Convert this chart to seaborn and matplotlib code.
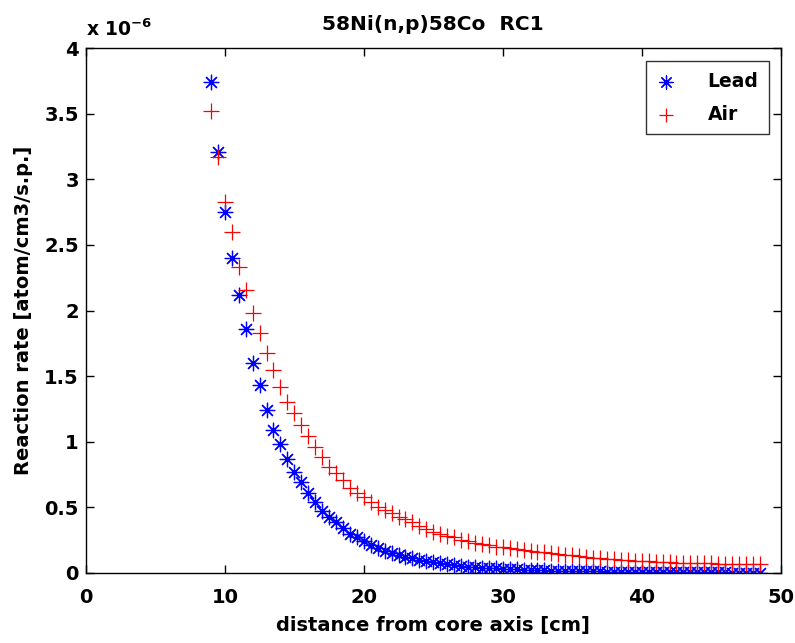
import numpy as np
import pandas as pd
import matplotlib
matplotlib.use("Agg")
import matplotlib.pyplot as plt
import seaborn as sns

# distance from core axis (cm), one point every 0.5 cm
distance = [9 + 0.5 * i for i in range(80)]

# reaction rates, in units of 1e-6 atom/cm3/s.p.
lead = [3.74, 3.21, 2.75, 2.40, 2.12, 1.86, 1.60, 1.43, 1.24, 1.09,
        0.98, 0.87, 0.77, 0.69, 0.61, 0.54, 0.47, 0.43, 0.39, 0.345,
        0.30, 0.275, 0.24, 0.215, 0.19, 0.17, 0.152, 0.137, 0.123, 0.113,
        0.100, 0.092, 0.084, 0.077, 0.070, 0.062, 0.055, 0.048, 0.045, 0.041,
        0.038, 0.035, 0.031, 0.029, 0.027, 0.025, 0.023, 0.021, 0.020, 0.018,
        0.017, 0.016, 0.015, 0.014, 0.013, 0.012, 0.011, 0.010, 0.0095, 0.009,
        0.0085, 0.008, 0.0075, 0.007, 0.0065, 0.006, 0.0056, 0.0052, 0.0048, 0.0045,
        0.0042, 0.0039, 0.0036, 0.0034, 0.0032, 0.0030, 0.0028, 0.0026, 0.0024, 0.0022]

air = [3.52, 3.17, 2.83, 2.60, 2.33, 2.16, 1.98, 1.83, 1.68, 1.55,
       1.42, 1.30, 1.22, 1.13, 1.04, 0.96, 0.88, 0.81, 0.76, 0.71,
       0.65, 0.61, 0.58, 0.54, 0.50, 0.48, 0.457, 0.43, 0.41, 0.39,
       0.36, 0.335, 0.31, 0.30, 0.28, 0.27, 0.25, 0.24, 0.23, 0.22,
       0.21, 0.20, 0.197, 0.19, 0.185, 0.178, 0.170, 0.163, 0.157, 0.151,
       0.145, 0.139, 0.133, 0.127, 0.122, 0.117, 0.112, 0.108, 0.104, 0.100,
       0.097, 0.094, 0.091, 0.088, 0.085, 0.083, 0.081, 0.079, 0.077, 0.075,
       0.074, 0.073, 0.072, 0.071, 0.070, 0.069, 0.068, 0.068, 0.067, 0.067]

sns.set_style("ticks")
plt.rcParams["font.family"] = ["DejaVu Sans"]
plt.rcParams["font.weight"] = "bold"
plt.rcParams["mathtext.default"] = "bf"
plt.rcParams["text.color"] = "black"
plt.rcParams["axes.labelcolor"] = "black"
plt.rcParams["xtick.color"] = "black"
plt.rcParams["ytick.color"] = "black"

fig = plt.figure(figsize=(7.95, 6.43), dpi=100)
ax = fig.add_axes([0.108, 0.109, 0.874, 0.816])

sns.scatterplot(x=distance, y=lead, ax=ax, marker=(8, 2, 0), color="blue",
                s=110, linewidth=0.9, label="Lead")
sns.scatterplot(x=distance, y=air, ax=ax, marker="+", color="red",
                s=130, linewidth=0.9, label="Air")

ax.set_xlim(0, 50)
ax.set_ylim(0, 4)
ax.set_xticks(np.arange(0, 51, 10))
ax.set_yticks(np.arange(0, 4.01, 0.5))
ax.set_yticklabels(["0", "0.5", "1", "1.5", "2", "2.5", "3", "3.5", "4"])
ax.tick_params(direction="in", top=True, right=True, length=6, width=1,
               labelsize=14)
ax.tick_params(axis="x", pad=11)
ax.tick_params(axis="y", pad=5)
for lab in ax.get_xticklabels() + ax.get_yticklabels():
    lab.set_fontweight("bold")
for sp in ax.spines.values():
    sp.set_visible(True)
    sp.set_linewidth(1)
    sp.set_color("black")

ax.set_xlabel("distance from core axis [cm]", fontsize=14, fontweight="bold", labelpad=6)
ax.set_ylabel("Reaction rate [atom/cm3/s.p.]", fontsize=14, fontweight="bold", labelpad=8)
ax.set_title("58Ni(n,p)58Co  RC1", fontsize=14.5, fontweight="bold", pad=13)
ax.text(0.0, 1.015, r"x 10$^{-6}$", transform=ax.transAxes, fontsize=13.5,
        fontweight="bold", ha="left", va="bottom")

leg = ax.legend(loc="upper right", bbox_to_anchor=(0.983, 0.975), fontsize=13.5,
                frameon=True, fancybox=False, edgecolor="black", borderpad=0.55,
                handlelength=1.0, handletextpad=1.75, labelspacing=0.75,
                borderaxespad=0.0, markerscale=0.9)
leg.get_frame().set_linewidth(1)
for t in leg.get_texts():
    t.set_fontweight("bold")

fig.savefig("out.png", dpi=100)
